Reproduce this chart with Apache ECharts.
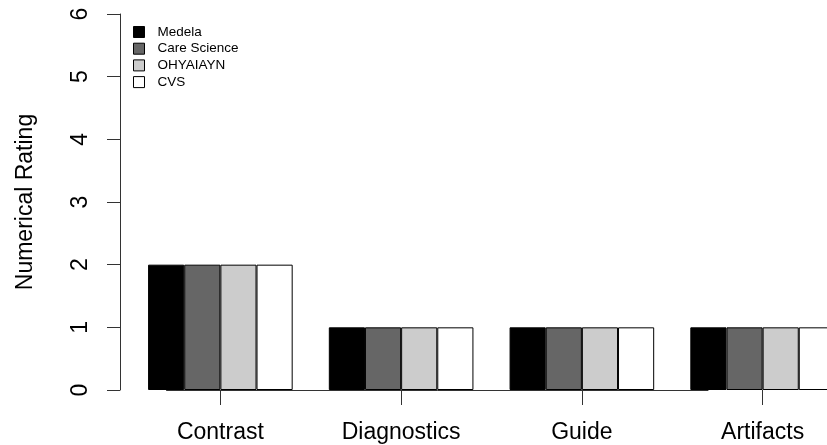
<!DOCTYPE html>
<html>
<head>
<meta charset="utf-8">
<script src="https://cdn.jsdelivr.net/npm/echarts@6/dist/echarts.min.js"></script>
<style>
  html, body { margin: 0; padding: 0; background: #fff; }
  #chart { width: 827px; height: 445px; }
</style>
</head>
<body>
<div id="chart"></div>
<script>
const categories = ["Contrast", "Diagnostics", "Guide", "Artifacts"]
const medela = [2, 1, 1, 1]
const careScience = [2, 1, 1, 1]
const ohyaiayn = [2, 1, 1, 1]
const cvs = [2, 1, 1, 1]
const yTicks = [0, 1, 2, 3, 4, 5, 6]

const FONT = "'Liberation Sans', Arial, sans-serif"
const INK = "#333"

const groups = [
  { name: "Medela", data: medela, color: "#000000" },
  { name: "Care Science", data: careScience, color: "#666666" },
  { name: "OHYAIAYN", data: ohyaiayn, color: "#cccccc" },
  { name: "CVS", data: cvs, color: "#ffffff" }
]

const chart = echarts.init(document.getElementById("chart"))

const series = groups.map((g, i) => {
  const s = {
    name: g.name,
    type: "bar",
    data: g.data,
    barGap: "0%",
    barCategoryGap: "20%",
    itemStyle: { color: g.color, borderColor: "#000", borderWidth: 1 },
    emphasis: { disabled: true }
  }
  if (i === 0) {
    // baseline between first and last group, like R's axis line
    s.markLine = {
      silent: true,
      symbol: "none",
      label: { show: false },
      lineStyle: { color: INK, width: 1, type: "solid" },
      data: [[
        { xAxis: categories[0], yAxis: 0 },
        { xAxis: categories[categories.length - 1], yAxis: 0 }
      ]]
    }
  }
  return s
})

chart.setOption({
  animation: false,
  backgroundColor: "#fff",
  grid: { left: 130, right: -26, top: 14, bottom: 55, outerBoundsMode: "none" },
  legend: {
    orient: "vertical",
    left: 133,
    top: 25,
    padding: 0,
    itemWidth: 11,
    itemHeight: 11,
    itemGap: 2.7,
    icon: "rect",
    itemStyle: { borderColor: "#000", borderWidth: 1 },
    textStyle: { fontFamily: FONT, fontSize: 13.5, color: "#000", padding: [0, 0, 0, 8] },
    data: groups.map(g => g.name)
  },
  xAxis: {
    type: "category",
    data: categories,
    axisLine: { show: false },
    axisTick: { show: true, alignWithLabel: true, length: 15, lineStyle: { color: INK, width: 1 } },
    axisLabel: { fontFamily: FONT, fontSize: 23, color: "#000", margin: 31 },
    splitLine: { show: false }
  },
  yAxis: {
    type: "value",
    min: yTicks[0],
    max: yTicks[yTicks.length - 1],
    interval: 1,
    offset: 10,
    name: "Numerical Rating",
    nameLocation: "middle",
    nameGap: 83,
    nameTextStyle: { fontFamily: FONT, fontSize: 23, color: "#000" },
    axisLine: { show: true, lineStyle: { color: INK, width: 1 } },
    axisTick: { show: true, length: 13, lineStyle: { color: INK, width: 1 } },
    axisLabel: { rotate: 90, fontFamily: FONT, fontSize: 23, color: "#000", margin: 28 },
    splitLine: { show: false }
  },
  series: series
})
</script>
</body>
</html>
